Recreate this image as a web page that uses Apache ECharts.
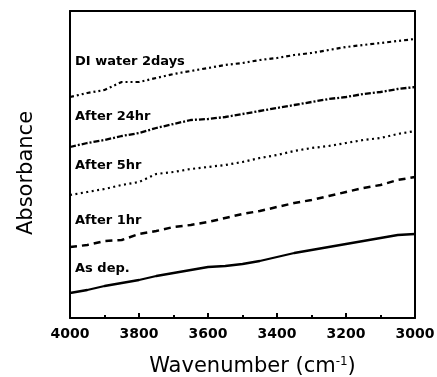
<!DOCTYPE html>
<html>
<head>
<meta charset="utf-8">
<script src="https://cdn.jsdelivr.net/npm/echarts@6/dist/echarts.min.js"></script>
<style>
  html, body { margin: 0; padding: 0; background: #fff; }
  #chart { width: 437px; height: 377px; }
</style>
</head>
<body>
<div id="chart"></div>
<script>
// wavenumber (cm-1), every 50 from 4000 down to 3000
const wavenumbers = [4000, 3950, 3900, 3850, 3800, 3750, 3700, 3650, 3600, 3550, 3500,
    3450, 3400, 3350, 3300, 3250, 3200, 3150, 3100, 3050, 3000];

// absorbance (a.u., offset traces)
const asDep = [0.25, 0.28, 0.32, 0.35, 0.38, 0.42, 0.45, 0.48, 0.51, 0.52, 0.54,
    0.57, 0.61, 0.65, 0.68, 0.71, 0.74, 0.77, 0.80, 0.83, 0.84];
const after1hr = [0.71, 0.73, 0.77, 0.78, 0.84, 0.87, 0.91, 0.93, 0.96, 1.00, 1.04,
    1.07, 1.11, 1.15, 1.18, 1.22, 1.26, 1.30, 1.33, 1.38, 1.41];
const after5hr = [1.23, 1.26, 1.29, 1.33, 1.36, 1.44, 1.46, 1.49, 1.51, 1.53, 1.56,
    1.60, 1.63, 1.67, 1.70, 1.72, 1.75, 1.78, 1.80, 1.84, 1.87];
const after24hr = [1.71, 1.75, 1.78, 1.82, 1.85, 1.90, 1.94, 1.98, 1.99, 2.01, 2.04,
    2.07, 2.10, 2.13, 2.16, 2.19, 2.21, 2.24, 2.26, 2.29, 2.31];
const diWater2days = [2.21, 2.25, 2.28, 2.36, 2.36, 2.40, 2.44, 2.47, 2.50, 2.53, 2.55,
    2.58, 2.60, 2.63, 2.65, 2.68, 2.71, 2.73, 2.75, 2.77, 2.79];

const labels = ['DI water 2days', 'After 24hr', 'After 5hr', 'After 1hr', 'As dep.'];
const labelY = [62, 117, 166, 221, 269];

const pair = arr => wavenumbers.map((w, i) => [w, arr[i]]);

function line(name, data, type, width) {
    return {
        name: name,
        type: 'line',
        data: pair(data),
        symbol: 'none',
        silent: true,
        lineStyle: {color: '#000', width: width, type: type}
    };
}

const frameLine = {show: true, onZero: false, lineStyle: {color: '#000', width: 2}};

const myChart = echarts.init(document.getElementById('chart'));
myChart.setOption({
    animation: false,
    grid: {
        left: 70,
        right: 22,
        top: 11,
        bottom: 59,
        outerBoundsMode: 'none'
    },
    xAxis: [{
        type: 'value',
        inverse: true,
        min: 3000,
        max: 4000,
        interval: 200,
        name: '{a|Wavenumber (cm}{s|-1}{a|)}',
        nameLocation: 'middle',
        nameGap: 38,
        nameTextStyle: {
            padding: [0, 0, 0, 20],
            rich: {
                a: {fontFamily: 'DejaVu Sans', fontSize: 21, color: '#000'},
                s: {fontFamily: 'DejaVu Sans', fontSize: 12, color: '#000', verticalAlign: 'top'}
            }
        },
        splitLine: {show: false},
        axisLine: frameLine,
        axisTick: {show: true, inside: true, length: 5, lineStyle: {color: '#000', width: 2}},
        minorTick: {show: true, splitNumber: 2, length: 3, lineStyle: {color: '#000', width: 2}},
        minorSplitLine: {show: false},
        axisLabel: {
            color: '#000',
            fontFamily: 'DejaVu Sans',
            fontWeight: 'bold',
            fontSize: 14,
            margin: 9,
            formatter: v => String(v)
        }
    }, {
        type: 'value',
        position: 'top',
        inverse: true,
        min: 3000,
        max: 4000,
        axisLine: frameLine,
        axisTick: {show: false},
        axisLabel: {show: false},
        splitLine: {show: false}
    }],
    yAxis: [{
        type: 'value',
        min: 0,
        max: 3.07,
        name: 'Absorbance',
        nameLocation: 'middle',
        nameGap: 33,
        nameTextStyle: {fontFamily: 'DejaVu Sans', fontSize: 21, color: '#000', padding: [0, 0, 0, -17]},
        splitLine: {show: false},
        axisLine: frameLine,
        axisTick: {show: false},
        axisLabel: {show: false}
    }, {
        type: 'value',
        position: 'right',
        min: 0,
        max: 3.07,
        splitLine: {show: false},
        axisLine: frameLine,
        axisTick: {show: false},
        axisLabel: {show: false}
    }],
    series: [
        line('As dep.', asDep, 'solid', 2.3),
        line('After 1hr', after1hr, [7, 5], 2.5),
        line('After 5hr', after5hr, [2, 3.5], 2.2),
        line('After 24hr', after24hr, [6, 2, 2, 2], 2.3),
        line('DI water 2days', diWater2days, [4, 3, 2, 3, 2, 3], 2.2)
    ],
    graphic: labels.map((t, i) => ({
        type: 'text',
        left: 75,
        top: labelY[i] - 7,
        style: {
            text: t,
            fill: '#000',
            font: 'bold 13px "DejaVu Sans"'
        }
    }))
});
</script>
</body>
</html>
